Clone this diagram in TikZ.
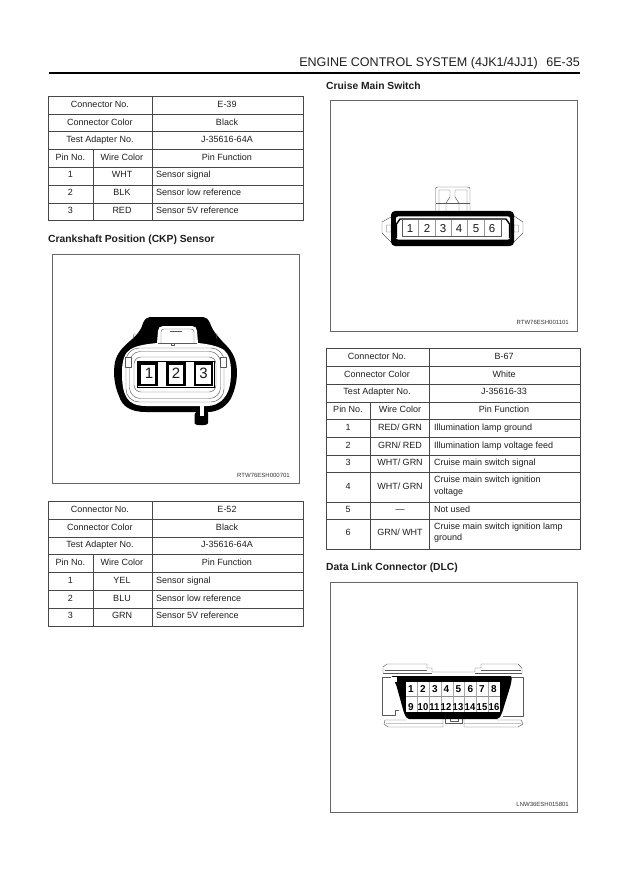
\documentclass[tikz,border=0pt]{standalone}
\usepackage{fontspec}
\usepackage{graphicx}
\setmainfont{Liberation Sans}
\tikzset{
 cell/.style={inner sep=0pt,font=\fontsize{9}{11.5}\selectfont,text=black!88,text height=6.5pt,text depth=0pt},
 celll/.style={cell,anchor=west},
 cellm/.style={inner sep=0pt,font=\fontsize{9}{11.5}\selectfont,text=black!88,anchor=west,align=left},
 head/.style={inner sep=0pt,anchor=west,font=\fontsize{10.3}{12}\selectfont\bfseries,text=black!88,text height=7.4pt,text depth=0pt},
 tline/.style={draw=black!72,line width=.55pt},
 frame/.style={draw=black!60,line width=.6pt},
 pinA/.style={inner sep=0pt,text=black!90,font=\fontsize{15}{16}\selectfont,text height=10.8pt,text depth=0pt},
 pinB/.style={inner sep=0pt,text=black!90,font=\fontsize{11.5}{12}\selectfont,text height=8.3pt,text depth=0pt},
 pinC/.style={inner sep=0pt,text=black,font=\fontsize{10}{11}\selectfont\bfseries,text height=7.2pt,text depth=0pt},
 thin/.style={draw=black!65,line width=.45pt,line join=round},
 code/.style={inner sep=0pt,anchor=east,font=\fontsize{6}{7}\selectfont,text=black!80,text height=4.3pt,text depth=0pt}
}
\begin{document}
\begin{tikzpicture}[x=1pt,y=-1pt]
\useasboundingbox (0,0) rectangle (621,877);
\fill[white] (0,0) rectangle (621,877);
% header
\node[inner sep=0pt,anchor=east,font=\fontsize{12.55}{14}\selectfont,text=black!88,text height=9pt,text depth=0pt] (hdr) at (580,62.5) {ENGINE CONTROL SYSTEM (4JK1/4JJ1)\hspace{8.5pt}6E-35};
\coordinate (rl) at (49,73); \coordinate (rr) at (580,73);
\draw[line width=1.6pt] (rl) -- (rr);
% ---- Table E-39
\draw[tline] (48,96) rectangle (303,220);
\foreach \y in {114,131,149,167,185,203} \draw[tline] (48,\y) -- (303,\y);
\draw[tline] (152,96) -- (152,220);
\draw[tline] (93,149) -- (93,220);
\node[cell] (a1) at (100,104) {Connector No.};
\node[cell] (a2) at (227,104) {E-39};
\node[cell] (a3) at (100,122) {Connector Color};
\node[cell] (a4) at (227,122) {Black};
\node[cell] (a5) at (100,139.5) {Test Adapter No.};
\node[cell] (a6) at (227,139.5) {J-35616-64A};
\node[cell] (a7) at (70.5,157) {Pin No.};
\node[cell] (a8) at (122,157) {Wire Color};
\node[cell] (a9) at (227,157) {Pin Function};
\node[cell] (a10) at (70.5,174.5) {1};
\node[cell] (a11) at (122,174.5) {WHT};
\node[celll] (a12) at (156,174.5) {Sensor signal};
\node[cell] (a13) at (70.5,192) {2};
\node[cell] (a14) at (122,192) {BLK};
\node[celll] (a15) at (156,192) {Sensor low reference};
\node[cell] (a16) at (70.5,210) {3};
\node[cell] (a17) at (122,210) {RED};
\node[celll] (a18) at (156,210) {Sensor 5V reference};
% ---- Table E-52
\draw[tline] (48,501) rectangle (303,626);
\foreach \y in {519,537,554,572,590,608} \draw[tline] (48,\y) -- (303,\y);
\draw[tline] (152,501) -- (152,626);
\draw[tline] (93,554) -- (93,626);
\node[cell] (b1) at (100,509) {Connector No.};
\node[cell] (b2) at (227,509) {E-52};
\node[cell] (b3) at (100,527) {Connector Color};
\node[cell] (b4) at (227,527) {Black};
\node[cell] (b5) at (100,544.5) {Test Adapter No.};
\node[cell] (b6) at (227,544.5) {J-35616-64A};
\node[cell] (b7) at (70.5,562) {Pin No.};
\node[cell] (b8) at (122,562) {Wire Color};
\node[cell] (b9) at (227,562) {Pin Function};
\node[cell] (b10) at (70.5,580) {1};
\node[cell] (b11) at (122,580) {YEL};
\node[celll] (b12) at (156,580) {Sensor signal};
\node[cell] (b13) at (70.5,598) {2};
\node[cell] (b14) at (122,598) {BLU};
\node[celll] (b15) at (156,598) {Sensor low reference};
\node[cell] (b16) at (70.5,615.5) {3};
\node[cell] (b17) at (122,615.5) {GRN};
\node[celll] (b18) at (156,615.5) {Sensor 5V reference};
% ---- Table B-67
\draw[tline] (326,348) rectangle (580,549);
\foreach \y in {366,384,402,419,437,455,472,502,519} \draw[tline] (326,\y) -- (580,\y);
\draw[tline] (429,348) -- (429,549);
\draw[tline] (370,402) -- (370,549);
\node[cell] (c1) at (377,356) {Connector No.};
\node[cell] (c2) at (504,356) {B-67};
\node[cell] (c3) at (377,374) {Connector Color};
\node[cell] (c4) at (504,374) {White};
\node[cell] (c5) at (377,391.5) {Test Adapter No.};
\node[cell] (c6) at (504,391.5) {J-35616-33};
\node[cell] (c7) at (348,409) {Pin No.};
\node[cell] (c8) at (400,409) {Wire Color};
\node[cell] (c9) at (504,409) {Pin Function};
\node[cell] (c10) at (348,427) {1};
\node[cell] (c11) at (400,427) {RED/ GRN};
\node[celll] (c12) at (434,427) {Illumination lamp ground};
\node[cell] (c13) at (348,445) {2};
\node[cell] (c14) at (400,445) {GRN/ RED};
\node[celll] (c15) at (434,445) {Illumination lamp voltage feed};
\node[cell] (c16) at (348,462.5) {3};
\node[cell] (c17) at (400,462.5) {WHT/ GRN};
\node[celll] (c18) at (434,462.5) {Cruise main switch signal};
\node[cell] (c19) at (348,486) {4};
\node[cell] (c20) at (400,486) {WHT/ GRN};
\node[cellm] (c21) at (434,486) {Cruise main switch ignition\\voltage};
\node[cell] (c22) at (348,509) {5};
\node[cell] (c23) at (400,509) {—};
\node[celll] (c24) at (434,509) {Not used};
\node[cell] (c25) at (348,532.5) {6};
\node[cell] (c26) at (400,532.5) {GRN/ WHT};
\node[cellm] (c27) at (434,532.5) {Cruise main switch ignition lamp\\ground};
% headings
\node[head] (h1) at (48,238.5) {Crankshaft Position (CKP) Sensor};
\node[head] (h2) at (326,85.5) {Cruise Main Switch};
\node[head] (h3) at (326,566.5) {Data Link Connector (DLC)};
% frames
\draw[frame] (52,254) rectangle (299,483);
\draw[frame] (330,100) rectangle (577,331);
\draw[frame] (330,582) rectangle (577,812);
\node[code] (f1) at (290,475) {RTW76ESH000701};
\node[code] (f2) at (569,322) {RTW76ESH001101};
\node[code] (f3) at (569,804) {LNW36ESH015801};
% ---- CKP connector: black shell
\fill[black,rounded corners=3pt] (194.5,412) -- (194.5,420) .. controls (194.5,426) and (208,426) .. (208,420) -- (208,410) -- cycle;
\fill[black] (150,317) -- (203,317)
  .. controls (206,317) and (208,319) .. (210,323)
  .. controls (213,332) and (218,336) .. (222,341)
  .. controls (228,347) and (234,353) .. (236,363)
  .. controls (238,372) and (237,385) .. (232,396)
  .. controls (228,406) and (218,412) .. (208,412)
  -- (146,412)
  .. controls (130,412) and (122,406) .. (119,396)
  .. controls (114,385) and (113,372) .. (115,362)
  .. controls (117,353) and (123,347) .. (130,341)
  .. controls (136,336) and (141,331) .. (143,323)
  .. controls (145,319) and (147,317) .. (150,317) -- cycle;
% white interior with the latch
\fill[white] (122,372) .. controls (122,360) and (125,352) .. (131,349)
  .. controls (138,345) and (148,344) .. (157,343)
  -- (158,331) .. controls (158,328) and (160,326) .. (163,326)
  -- (192,326) .. controls (195,326) and (197,328) .. (197,331)
  -- (198,343) .. controls (208,344) and (218,346) .. (224,350)
  .. controls (229,354) and (231,362) .. (231,372)
  .. controls (231,384) and (229,392) .. (224,398)
  .. controls (219,404) and (213,406) .. (207,406)
  -- (146,406) .. controls (136,406) and (130,403) .. (127,398)
  .. controls (123,392) and (122,384) .. (122,372) -- cycle;
\fill[white] (199.8,404) rectangle (203.8,416);
% latch details
\draw[thin] (158,343) -- (197,343);
\draw[thin] (161,343) -- (161,332) .. controls (161,330) and (162,329) .. (164,329) -- (191,329) .. controls (193,329) and (194,330) .. (194,332) -- (194,343);
\draw[thin] (170,331.5) -- (182,331.5) (171,343) -- (171,345) -- (174,345) -- (174,343);
\draw[thin] (133,339) -- (134,334) -- (136,334) (217,339) -- (216,334) -- (218,334);
% concentric seal lines
\draw[thin,rounded corners=13pt] (126,348) rectangle (224,402);
\draw[thin,rounded corners=11pt] (129.5,351.5) rectangle (220.5,398.5);
\draw[thin,rounded corners=7pt] (134,357) rectangle (216,392);
\draw[thin,fill=white] (125,357) rectangle (131,367) (220,357) rectangle (226,367);
\draw[draw=black,line width=.7pt] (137.5,361) rectangle (214.5,387);
\foreach \x/\t/\n in {148/149/1,176/176/2,203.5/203.5/3}{
  \draw[draw=black,line width=2.2pt,fill=white] (\x-8.5,363.5) rectangle (\x+8.5,385);
  \node[pinA] (ck\n) at (\t,373.5) {\n};
}
% ---- Cruise switch
\draw[thin] (435.5,211) -- (435.5,189) .. controls (435.5,187.5) and (436.5,187) .. (438,187) -- (467,187) .. controls (469,187) and (470,187.5) .. (470,189) -- (470,211);
\draw[thin] (435.5,203) -- (470,203);
\draw[thin] (439,211) -- (439,190) -- (450,190) -- (450,197) -- (446,203) -- (446,211)
 (467,211) -- (467,190) -- (455,190) -- (455,197) -- (459,203) -- (459,211);
\draw[thin] (391,217) -- (382,222) -- (382,233) -- (391,242)
  (514,216) -- (523,222) -- (523,233) -- (514,242)
  (386.5,225) rectangle (391,232) (514,225) rectangle (518.5,232);
\fill[black,rounded corners=4pt] (391,211) rectangle (514,246);
\fill[white,rounded corners=2pt] (396,216.5) rectangle (510,239.5);
\draw[black,line width=1.4pt,line join=round] (396.5,238) -- (396.5,224) -- (400,219) -- (506,219) -- (509.5,224) -- (509.5,238);
\draw[thin] (402,220) -- (402,236) -- (501,236) -- (501,220);
\draw[thin,draw=black!40] (418.5,220) -- (418.5,236) (435,220) -- (435,236) (451,220) -- (451,236) (467.5,220) -- (467.5,236) (484,220) -- (484,236);
\foreach \x/\n in {410/1,427/2,443/3,459/4,476/5,492/6}{
  \node[pinB] (cs\n) at (\x,228) {\n};
}
% ---- DLC
\draw[thin] (383,673) -- (383,667) -- (387,664) -- (427,664) -- (427,668) -- (432,668) -- (432,672) -- (475,672) -- (475,668) -- (481,668) -- (481,664) -- (518,664) -- (522,668) -- (522,673);
\draw[thin] (385,670) -- (427,670) (481,670) -- (521,670) (383,673) -- (432,673) (475,673) -- (522,673);
\draw[thin] (391,677) -- (382,677) -- (382,715) -- (395,715) -- (395,710) -- (399,710);
\draw[thin] (512,677) -- (523,677) -- (523,716) -- (503,716);
\draw[thin] (385,720) -- (384,724) -- (388,727) -- (443,727) -- (443,719) (385,720) -- (406,720) (386,723.5) -- (443,723.5);
\draw[thin] (464,719) -- (464,727) -- (518,727) -- (523,724) -- (521,720) -- (497,720) (464,723.5) -- (521,723.5);
\draw[thin] (445,719) -- (445,723.5) -- (462,723.5) -- (462,719) (450,719) -- (450,721) -- (458,721) -- (458,719);
\fill[black,rounded corners=2pt] (391,676) -- (512,676) -- (511,684) -- (502,713) -- (499,719) -- (407,719) -- (404,713) -- (396,684) -- cycle;
\fill[white] (392,677) rectangle (397,681.5);
\fill[white] (406,682) rectangle (500,712);
\draw[black!45,line width=.4pt] (406,696.5) -- (500,696.5);
\foreach \x in {417,429,441,453,464,476,488}{
  \draw[black!35,line width=.35pt] (\x,682) -- (\x,712);
}
\foreach \x/\n in {411/1,423/2,435/3,446.5/4,458.5/5,470.5/6,482/7,494/8}{
  \node[pinC] (dl\n) at (\x,688.5) {\n};
}
\node[pinC] (dl9) at (411,707) {9};
\foreach \x/\n in {423/10,434.5/11,446/12,458/13,470/14,482/15,494/16}{
  \node[pinC] (dl\n) at (\x,707) {\scalebox{.95}[1]{\n}};
}
\end{tikzpicture}
\end{document}
